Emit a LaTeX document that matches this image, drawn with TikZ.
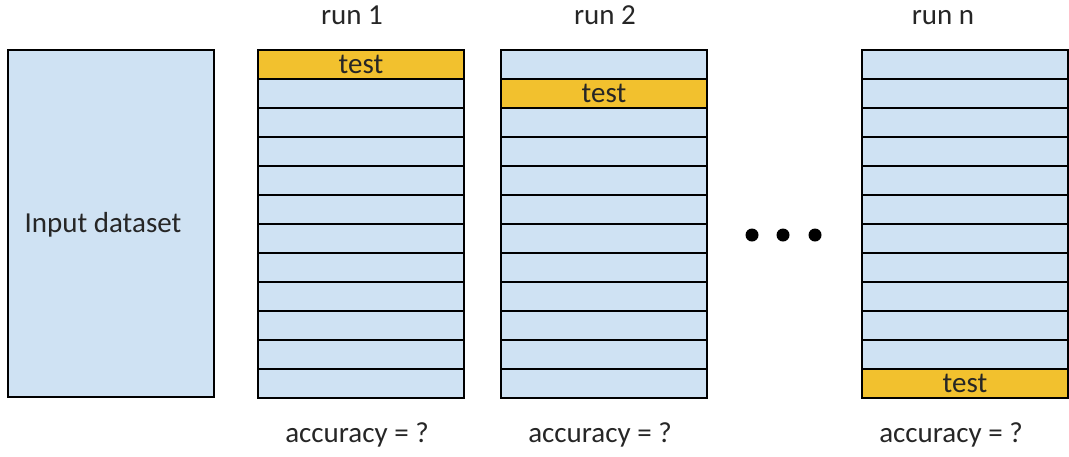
\documentclass[tikz,border=0pt]{standalone}
\usepackage{fontspec}
\setmainfont{Carlito}
\definecolor{cellblue}{HTML}{CFE2F3}
\definecolor{testgold}{HTML}{F2C12E}
\definecolor{inkgray}{HTML}{262626}
\begin{document}
\begin{tikzpicture}[x=1pt,y=-1pt,
  cell/.style={draw=black, line width=2.6pt, fill=cellblue, rectangle,
    minimum width=206pt, minimum height=29pt, inner sep=0pt, outer sep=0pt,
    anchor=north west, font=\fontsize{29}{29}\selectfont, text=inkgray},
  testcell/.style={cell, fill=testgold},
  caption/.style={font=\fontsize{29}{29}\selectfont, text=inkgray, inner sep=0pt},
  dot/.style={circle, fill=black, minimum size=13pt, inner sep=0pt}]
  \useasboundingbox (0,0) rectangle (1069,456);

  % whole dataset
  \node[cell, minimum width=206pt, minimum height=347pt] (input) at (8,50) {};
  \node[caption] (inputlbl) at (103,225) {Input dataset};

  % folds of each run; the test fold is highlighted
  \foreach \col/\x/\t in {a/258/1, b/501/2, c/862/12}{
    \foreach \r in {1,...,12}{
      \pgfmathsetmacro{\yy}{50+29*(\r-1)}
      \ifnum\r=\t
        \node[testcell] (\col\r) at (\x,\yy) {test};
      \else
        \node[cell] (\col\r) at (\x,\yy) {};
      \fi
    }
  }

  % run titles, on a common baseline
  \node[caption, anchor=base] (runa) at (352,24) {run 1};
  \node[caption, anchor=base] (runb) at (605,24) {run 2};
  \node[caption, anchor=base] (runc) at (943,24) {run n};

  % results
  \node[caption, anchor=base] (acca) at (357,442) {accuracy = ?};
  \node[caption, anchor=base] (accb) at (600,442) {accuracy = ?};
  \node[caption, anchor=base] (accc) at (951,442) {accuracy = ?};

  % ellipsis between runs
  \node[dot] (d1) at (752,235) {};
  \node[dot] (d2) at (783,235) {};
  \node[dot] (d3) at (815,235) {};
\end{tikzpicture}
\end{document}
